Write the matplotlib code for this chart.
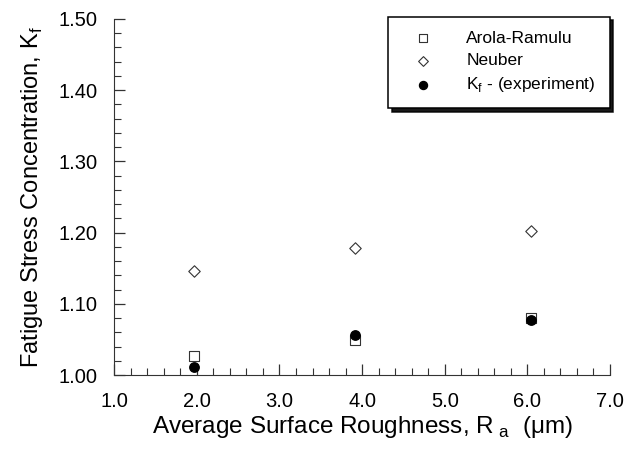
import matplotlib
matplotlib.use("Agg")
import matplotlib.pyplot as plt
from matplotlib.ticker import MultipleLocator, FormatStrFormatter

# data
roughness = [1.97, 3.92, 6.04]
arola_ramulu = [1.027, 1.049, 1.080]
neuber = [1.146, 1.178, 1.202]
kf_experiment = [1.012, 1.056, 1.077]

plt.rcParams['font.family'] = ['Liberation Sans', 'DejaVu Sans']
plt.rcParams['mathtext.fontset'] = 'custom'
plt.rcParams['mathtext.rm'] = 'Liberation Sans'

fig = plt.figure(figsize=(6.42, 4.58), dpi=100)
ax = fig.add_axes([0.178, 0.181, 0.772, 0.778])

ax.scatter(roughness, arola_ramulu, marker='s', s=48, facecolors='white',
           edgecolors='#333333', linewidths=0.8, label='Arola-Ramulu', zorder=3)
ax.scatter(roughness, neuber, marker='D', s=34, facecolors='white',
           edgecolors='#333333', linewidths=0.8, label='Neuber', zorder=3)
ax.scatter(roughness, kf_experiment, marker='o', s=46, color='black',
           label='K$_\\mathregular{f}$ - (experiment)', zorder=4)

ax.set_xlim(1.0, 7.0)
ax.set_ylim(1.0, 1.5)
ax.xaxis.set_major_locator(MultipleLocator(1.0))
ax.xaxis.set_minor_locator(MultipleLocator(0.2))
ax.yaxis.set_major_locator(MultipleLocator(0.1))
ax.yaxis.set_minor_locator(MultipleLocator(0.02))
ax.xaxis.set_major_formatter(FormatStrFormatter('%.1f'))
ax.yaxis.set_major_formatter(FormatStrFormatter('%.2f'))

ax.spines['top'].set_visible(False)
ax.spines['right'].set_visible(False)
for s in ['left', 'bottom']:
    ax.spines[s].set_color('#333333')
ax.tick_params(which='both', direction='in', colors='#333333', labelcolor='black',
               labelsize=14.5)
ax.tick_params(which='major', length=8, width=0.9, pad=12)
ax.tick_params(which='minor', length=5, width=0.8)

ax.set_xlabel('Average Surface Roughness, R$_{\\mathregular{\\ a}}$  (\u03bcm)', fontsize=17.5, labelpad=2)
ax.set_ylabel('Fatigue Stress Concentration, K$_\\mathregular{f}$', fontsize=17, labelpad=10)

leg = ax.legend(loc='upper right', bbox_to_anchor=(1.0, 1.006), frameon=True,
                fancybox=False, shadow={'ox': 2.5, 'oy': -2.5, 'color': 'black', 'alpha': 0.9},
                fontsize=12.5, handletextpad=1.3, borderpad=0.8, labelspacing=0.42,
                markerscale=0.85, borderaxespad=0.0, handlelength=2.4)
leg.get_frame().set_edgecolor('black')
leg.get_frame().set_linewidth(1.1)

fig.savefig('out.png', dpi=100)
